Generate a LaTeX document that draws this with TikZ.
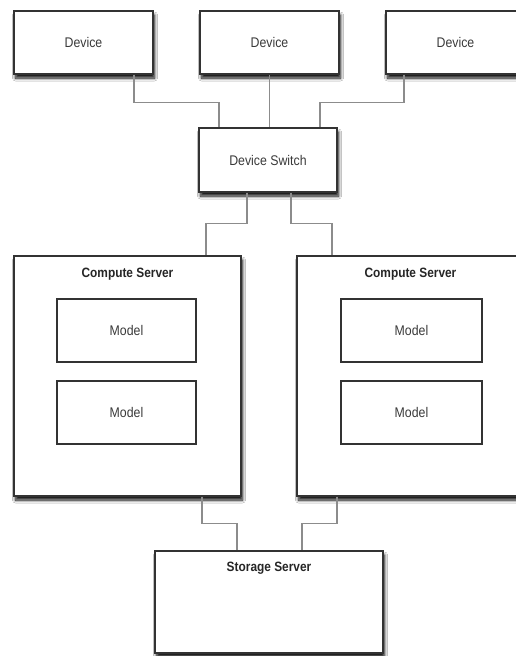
\documentclass[tikz,border=0pt]{standalone}
\usepackage{fontspec}
\setmainfont{Liberation Sans}[FakeStretch=0.88]
\usetikzlibrary{shadows.blur}
\definecolor{boxline}{HTML}{333333}
\definecolor{wire}{HTML}{8C8C8C}
\definecolor{txt}{HTML}{3A3A3A}
\tikzset{
  unit/.style={draw=boxline, line width=1.4pt, fill=white, rectangle,
    blur shadow={shadow xshift=1.5pt, shadow yshift=-4pt, shadow blur steps=8, shadow blur radius=3pt, shadow opacity=95},
    font=\fontsize{14}{16}\selectfont, text=txt, inner sep=0pt},
  inner/.style={draw=boxline, line width=1.2pt, fill=white, rectangle,
    font=\fontsize{14}{16}\selectfont, text=txt, inner sep=0pt},
  title/.style={font=\fontsize{13.5}{15}\selectfont\bfseries, text=black!85, inner sep=0pt},
  link/.style={draw=wire, line width=1.2pt},
}
\begin{document}
\begin{tikzpicture}[x=1pt, y=-1pt]
  \useasboundingbox (0,0) rectangle (516,656);
  \clip (0,0) rectangle (516,656);
  \fill[white] (0,0) rectangle (516,656);

  % devices
  \node[unit, minimum width=139pt, minimum height=63pt] (d1) at (83.5,42.5) {Device};
  \node[unit, minimum width=139pt, minimum height=63pt] (d2) at (269.5,42.5) {Device};
  \node[unit, minimum width=139pt, minimum height=63pt] (d3) at (455.5,42.5) {Device};

  % switch
  \node[unit, minimum width=138pt, minimum height=64pt] (sw) at (268,160) {Device Switch};

  % compute servers
  \node[unit, minimum width=227pt, minimum height=240pt] (csl) at (127.5,376) {};
  \node[unit, minimum width=227pt, minimum height=240pt] (csr) at (410.5,376) {};
  \node[title] (tl) at ([yshift=-18.5pt]csl.north) {Compute Server};
  \node[title] (tr) at ([yshift=-18.5pt]csr.north) {Compute Server};

  % models
  \node[inner, minimum width=139pt, minimum height=63pt] (ml1) at (126.5,330.5) {Model};
  \node[inner, minimum width=139pt, minimum height=63pt] (ml2) at (126.5,412.5) {Model};
  \node[inner, minimum width=141pt, minimum height=63pt] (mr1) at (411.5,330.5) {Model};
  \node[inner, minimum width=141pt, minimum height=63pt] (mr2) at (411.5,412.5) {Model};

  % storage
  \node[unit, minimum width=228pt, minimum height=102pt] (st) at (269,602) {};
  \node[title] (ts) at ([yshift=-18pt]st.north) {Storage Server};

  % device to switch
  \draw[link] ([xshift=50.5pt]d1.south) -- ++(0,28) -| ([xshift=-49pt]sw.north);
  \draw[link] (d2.south) -- (d2.south |- sw.north);
  \draw[link] ([xshift=-51.5pt]d3.south) -- ++(0,28) -| ([xshift=52pt]sw.north);

  % switch to compute servers
  \draw[link] ([xshift=-21pt]sw.south) -- ++(0,31) -| ([xshift=78.5pt]csl.north);
  \draw[link] ([xshift=23pt]sw.south) -- ++(0,31) -| ([xshift=-78.5pt]csr.north);

  % compute servers to storage
  \draw[link] ([xshift=74.5pt]csl.south) -- ++(0,27) -| ([xshift=-32pt]st.north);
  \draw[link] ([xshift=-73.5pt]csr.south) -- ++(0,27) -| ([xshift=33pt]st.north);
\end{tikzpicture}
\end{document}
